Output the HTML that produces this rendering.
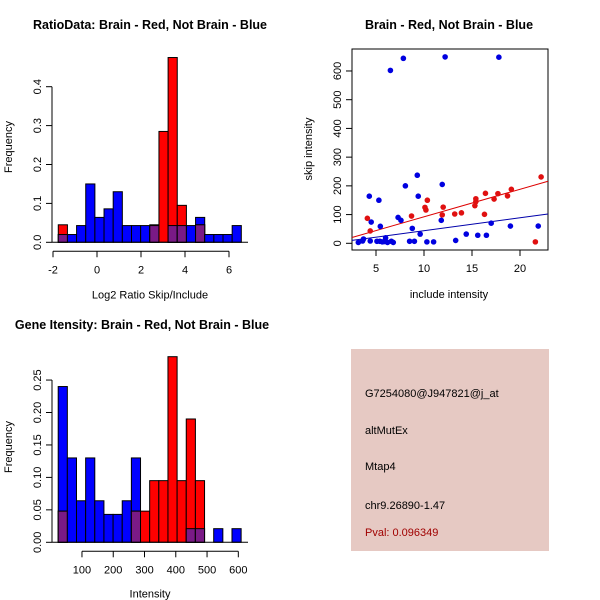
<!DOCTYPE html>
<html><head><meta charset="utf-8"><style>
body{margin:0;background:#fff}
svg{display:block;font-family:"Liberation Sans",sans-serif}
</style></head><body>
<svg id="c" width="600" height="600" xmlns="http://www.w3.org/2000/svg">
<rect x="0" y="0" width="600" height="600" fill="#fff"/>
<rect x="351" y="349" width="198" height="202" fill="#e6c9c3"/>
<g font-size="11" fill="#000">
<text x="365" y="397">G7254080@J947821@j_at</text>
<text x="365" y="434">altMutEx</text>
<text x="365" y="470">Mtap4</text>
<text x="365" y="509">chr9.26890-1.47</text>
<text x="365" y="536" fill="#a00000">Pval: 0.096349</text>
</g>
</svg>
<script>
// ---- Ratio histogram data ----
const ratioBinStart = -1.76, ratioBinWidth = 0.416;
const ratioBlue = [0.02,0.02,0.043,0.15,0.064,0.086,0.13,0.043,0.043,0.043,0.043,0,0.043,0.043,0.043,0.064,0.02,0.02,0.02,0.043];
const ratioRed  = [0.045,0,0,0,0,0,0,0,0,0,0.045,0.285,0.475,0.095,0,0.045,0,0,0,0];
const ratioXTicks = [-2,0,2,4,6];
const ratioYTicks = ["0.0","0.1","0.2","0.3","0.4"];
// ---- Intensity histogram data ----
const intBinStart = 24, intBinWidth = 29.25;
const intBlue = [0.24,0.13,0.064,0.13,0.064,0.043,0.043,0.064,0.13,0,0,0,0,0,0.021,0.021,0,0.021,0,0.021];
const intRed  = [0.048,0,0,0,0,0,0,0,0.048,0.048,0.095,0.095,0.286,0.095,0.19,0.095,0,0,0,0];
const intXTicks = [100,200,300,400,500,600];
const intYTicks = ["0.00","0.05","0.10","0.15","0.20","0.25"];
// ---- Scatter data ----
const blueX = [3.16,3.6,3.7,4.4,4.3,4.5,5.1,5.3,5.4,5.45,5.66,5.9,6.0,6.2,6.5,6.6,6.8,7.3,7.6,7.85,8.06,8.5,8.78,9.0,9.3,9.4,9.6,10.3,11.0,11.8,11.9,12.2,13.3,14.4,15.6,16.5,17.0,17.8,19.0,21.9];
const blueY = [3,8,15,8,164,74,7,150,7,59,5,6,19,3,602,7,3,90,80,644,200,7,52,7,237,164,32,5,5,80,205,649,10,32,28,28,70,648,60,60];
const redX = [4.1,4.4,8.7,10.1,10.2,10.35,11.9,12.0,13.2,13.9,15.3,15.4,15.4,16.3,16.4,17.3,17.7,18.7,19.1,21.6,22.2];
const redY = [87,43,95,125,116,150,99,126,102,106,131,155,145,101,174,154,173,165,188,5,231];
const redFit = [-3.7, 9.59];
const blueFit = [-1.1, 4.5];
const scXTicks = [5,10,15,20];
const scYTicks = [0,100,200,300,400,500,600];

const NS="http://www.w3.org/2000/svg";
const svg=document.getElementById('c');
function mk(tag,attrs,parent){const e=document.createElementNS(NS,tag);for(const k in attrs)e.setAttribute(k,attrs[k]);(parent||svg).appendChild(e);return e;}
function txt(s,x,y,attrs,parent){const t=mk('text',Object.assign({x:x,y:y},attrs),parent);t.textContent=s;return t;}

function hist(o){
  const g=mk('g',{});
  
  
  const X=v=>o.x0+(v-o.d0)*o.sx, Y=v=>o.y0-v*o.sy;
  for(let i=0;i<o.blue.length;i++){
    const a=o.binStart+i*o.binW, b=a+o.binW, bl=o.blue[i], rd=o.red[i];
    const x1=X(a), w=X(b)-x1, mn=Math.min(bl,rd);
    if(bl>0){const r=mk('rect',{x:x1,y:Y(bl),width:w,height:Y(0)-Y(bl),fill:'#0000ff',stroke:'#000','stroke-width':1},g);
      
      }
    if(rd>0){const r=mk('rect',{x:x1,y:Y(rd),width:w,height:Y(0)-Y(rd),fill:'#ff0000',stroke:'#000','stroke-width':1},g);
      
      }
    if(mn>0){const r=mk('rect',{x:x1,y:Y(mn),width:w,height:Y(0)-Y(mn),fill:'#7a1a86',stroke:'#000','stroke-width':1},g);
      
      }
  }
  mk('line',{x1:o.boxL,x2:o.boxR,y1:Y(0),y2:Y(0),stroke:'#000'},g);
  const ya=mk('g',{},g);
  
  
  const yt=o.yTicks.map(Number);
  mk('line',{x1:o.axL,x2:o.axL,y1:Y(yt[0]),y2:Y(yt[yt.length-1]),stroke:'#000'},ya);
  o.yTicks.forEach(t=>{const v=Number(t);mk('line',{x1:o.axL-6,x2:o.axL,y1:Y(v),y2:Y(v),stroke:'#000'},ya);
    txt(String(t),0,0,{'font-size':11,'text-anchor':'middle',transform:`translate(${o.axL-11},${Y(v)}) rotate(-90)`},ya);});
  const xa=mk('g',{},g);
  
  
  const xy=Y(0)+9;
  mk('line',{x1:X(o.xTicks[0]),x2:X(o.xTicks[o.xTicks.length-1]),y1:xy,y2:xy,stroke:'#000'},xa);
  o.xTicks.forEach(v=>{mk('line',{x1:X(v),x2:X(v),y1:xy,y2:xy+6,stroke:'#000'},xa);
    txt(String(v),X(v),xy+22,{'font-size':11,'text-anchor':'middle'},xa);});
  const xl=txt(o.xlab,150,Y(0)+o.xlabOff,{'font-size':11,'text-anchor':'middle'},g);
  
  
  const yl=txt('Frequency',0,0,{'font-size':11,'text-anchor':'middle',transform:`translate(12,${o.ymid}) rotate(-90)`},g);
  
  
  const tl=txt(o.title,o.tx,o.ty,{'font-size':12.5,'font-weight':'bold','text-anchor':'middle'},g);
  
  
}
hist({name:'ratio-histogram',blue:ratioBlue,red:ratioRed,binStart:ratioBinStart,binW:ratioBinWidth,
  d0:0,x0:97,sx:22,y0:242.3,sy:389,axL:52,boxL:52,boxR:248,xTicks:ratioXTicks,yTicks:ratioYTicks,
  xlab:'Log2 Ratio Skip/Include',xlabOff:56,ymid:147,title:'RatioData: Brain - Red, Not Brain - Blue',tx:150,ty:29});
hist({name:'intensity-histogram',blue:intBlue,red:intRed,binStart:intBinStart,binW:intBinWidth,
  d0:0,x0:50.7,sx:0.3127,y0:542.3,sy:649,axL:52,boxL:52,boxR:248,xTicks:intXTicks,yTicks:intYTicks,
  xlab:'Intensity',xlabOff:55,ymid:447,title:'Gene Itensity: Brain - Red, Not Brain - Blue',tx:142,ty:329});

(function(){
  const g=mk('g',{});
  
  
  const X=v=>328+v*9.6, Y=v=>243.3-v*0.2872;
  const L=352,R=548,T=49,B=250;
  mk('rect',{x:L,y:T,width:R-L,height:B-T,fill:'none',stroke:'#000'},g);
  const line=(f,c,n)=>{const x1=(L-328)/9.6,x2=(R-328)/9.6;
    const l=mk('line',{x1:X(x1),x2:X(x2),y1:Y(f[0]+f[1]*x1),y2:Y(f[0]+f[1]*x2),stroke:c,'stroke-width':1},g);
    
    };
  line(redFit,'#dd0000','red-fit-line');
  line(blueFit,'#0000aa','blue-fit-line');
  blueX.forEach((x,i)=>{const c=mk('circle',{cx:X(x),cy:Y(blueY[i]),r:2.8,fill:'#0000e0'},g);
    
    });
  redX.forEach((x,i)=>{const c=mk('circle',{cx:X(x),cy:Y(redY[i]),r:2.8,fill:'#e01010'},g);
    
    });
  scXTicks.forEach(v=>{mk('line',{x1:X(v),x2:X(v),y1:B,y2:B+6,stroke:'#000'},g);
    txt(String(v),X(v),B+22,{'font-size':11,'text-anchor':'middle'},g);});
  scYTicks.forEach(v=>{mk('line',{x1:L-6,x2:L,y1:Y(v),y2:Y(v),stroke:'#000'},g);
    txt(String(v),0,0,{'font-size':11,'text-anchor':'middle',transform:`translate(${L-11},${Y(v)}) rotate(-90)`},g);});
  const xl=txt('include intensity',449,298,{'font-size':11,'text-anchor':'middle'},g);
  
  
  const yl=txt('skip intensity',0,0,{'font-size':11,'text-anchor':'middle',transform:'translate(312,149) rotate(-90)'},g);
  
  
  const tl=txt('Brain - Red, Not Brain - Blue',449,29,{'font-size':12.5,'font-weight':'bold','text-anchor':'middle'},g);
  
  
})();
</script>
</body></html>
